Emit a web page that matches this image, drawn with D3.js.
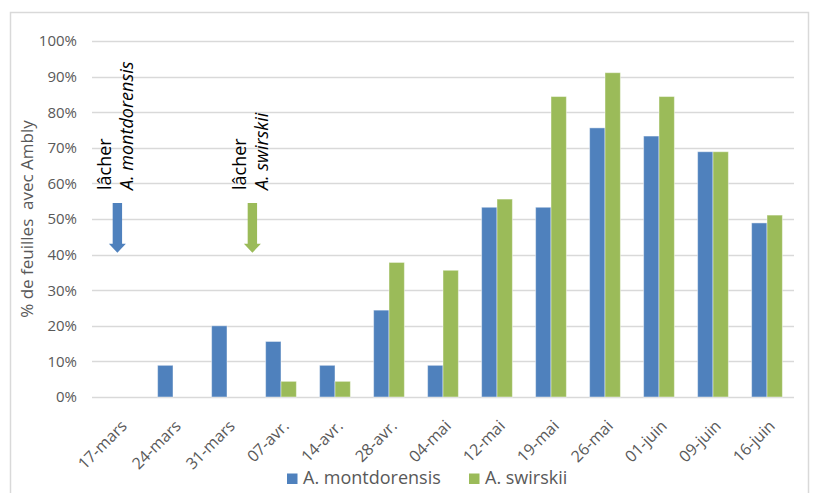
<!DOCTYPE html>
<html><head><meta charset="utf-8">
<script src="https://cdn.jsdelivr.net/npm/d3@7"></script>
<style>
body{margin:0;background:#fff;}
text{font-family:"Open Sans",sans-serif;}
</style></head>
<body><svg id="c" width="817" height="493"></svg>
<script>
const categories = ["17-mars","24-mars","31-mars","07-avr.","14-avr.","28-avr.","04-mai","12-mai","19-mai","26-mai","01-juin","09-juin","16-juin"];
const montdorensis = [0, 0.089, 0.20, 0.156, 0.089, 0.244, 0.089, 0.533, 0.533, 0.756, 0.733, 0.689, 0.489];
const swirskii     = [0, 0, 0, 0.044, 0.044, 0.378, 0.356, 0.556, 0.844, 0.911, 0.844, 0.689, 0.511];
const seriesNames = ["A. montdorensis","A. swirskii"];
const colors = ["#4f81bd","#9bbb59"];
const yTicks = [0,0.1,0.2,0.3,0.4,0.5,0.6,0.7,0.8,0.9,1.0];
const yTitle = "% de feuilles  avec Ambly";
// release annotations: category, offset in steps, y from/to, species
const releases = [
  {cat:"17-mars", offset:-0.03, yTop:0.545, yTip:0.405, label:"lâcher", species:"A. montdorensis", series:0},
  {cat:"31-mars", offset:0.47, yTop:0.545, yTip:0.405, label:"lâcher", species:"A. swirskii", series:1}
];

const svg = d3.select("#c");
const m = {left:92, right:794, top:41, bottom:397};

// chart border
svg.append("rect").attr("x",10.5).attr("y",12.5).attr("width",798).attr("height",495)
  .attr("fill","none").attr("stroke","#d9d9d9").attr("stroke-width",1.5);

const y = d3.scaleLinear().domain([0,1]).range([m.bottom,m.top]);
const x = d3.scaleBand().domain(categories).range([m.left,m.right]).paddingInner(0.43).paddingOuter(0.215);
const xs = d3.scaleBand().domain([0,1]).range([0,x.bandwidth()]);

// gridlines
svg.append("g").selectAll("line").data(yTicks).join("line")
  .attr("x1",m.left).attr("x2",m.right)
  .attr("y1",d=>Math.round(y(d))+0.5).attr("y2",d=>Math.round(y(d))+0.5)
  .attr("stroke","#d9d9d9").attr("stroke-width",1.3);

// y axis labels
const yAxis = d3.axisLeft(y).tickValues(yTicks).tickFormat(d3.format(".0%")).tickSize(0).tickPadding(15);
const ga = svg.append("g").attr("transform",`translate(${m.left},0)`).call(yAxis);
ga.select(".domain").remove();
ga.selectAll("text").attr("fill","#595959").style("font-size","15px").style("font-family","'Open Sans',sans-serif");

// bars
const data = categories.map((c,i)=>({c, v:[montdorensis[i],swirskii[i]]}));
svg.append("g").selectAll("g").data(data).join("g")
  .attr("transform",d=>`translate(${x(d.c)},0)`)
  .selectAll("rect").data(d=>d.v.map((v,k)=>({v,k}))).join("rect")
  .attr("x",d=>xs(d.k)).attr("width",xs.bandwidth())
  .attr("y",d=>y(d.v)).attr("height",d=>y(0)-y(d.v))
  .attr("fill",d=>colors[d.k])
  .attr("stroke",d=>d.v>0?"rgba(255,255,255,0.45)":"none").attr("stroke-width",1);

// x axis labels
const xAxis = d3.axisBottom(x).tickSize(0).tickPadding(0);
const gx = svg.append("g").attr("transform",`translate(0,${m.bottom})`).call(xAxis);
gx.select(".domain").remove();
gx.selectAll("text")
  .attr("fill","#595959").style("font-size","16px").style("font-family","'Open Sans',sans-serif")
  .attr("text-anchor","end").attr("dy",null).attr("y",0)
  .attr("transform","translate(9,30) rotate(-45)");

// y title
svg.append("text").attr("transform",`translate(33,${(m.top+m.bottom)/2}) rotate(-90)`)
  .attr("text-anchor","middle").attr("fill","#595959")
  .style("font-size","17px").style("white-space","pre").text(yTitle);

// release arrows
releases.forEach(r=>{
  const cx = x(r.cat)+x.bandwidth()/2 + r.offset*x.step();
  const yt = y(r.yTop), yp = y(r.yTip), hb = yp-9;
  const sw=4.7, hw=8.5;
  svg.append("path")
    .attr("d",`M${cx-sw},${yt}L${cx+sw},${yt}L${cx+sw},${hb}L${cx+hw},${hb}L${cx},${yp}L${cx-hw},${hb}L${cx-sw},${hb}Z`)
    .attr("fill",colors[r.series]);
  svg.append("text").attr("transform",`translate(${cx-6},190) rotate(-90)`)
    .attr("fill","#000").style("font-size","18px").text(r.label);
  svg.append("text").attr("transform",`translate(${cx+16},190) rotate(-90)`)
    .attr("fill","#000").style("font-size","18px").style("font-style","italic").text(r.species);
});

// legend
const lg = svg.append("g");
const legX = [287,469];
seriesNames.forEach((n,i)=>{
  lg.append("rect").attr("x",legX[i]).attr("y",473.5).attr("width",10.5).attr("height",10.5).attr("fill",colors[i]);
  lg.append("text").attr("x",legX[i]+16).attr("y",484).attr("fill","#595959").style("font-size","18px").text(n);
});
</script></body></html>
